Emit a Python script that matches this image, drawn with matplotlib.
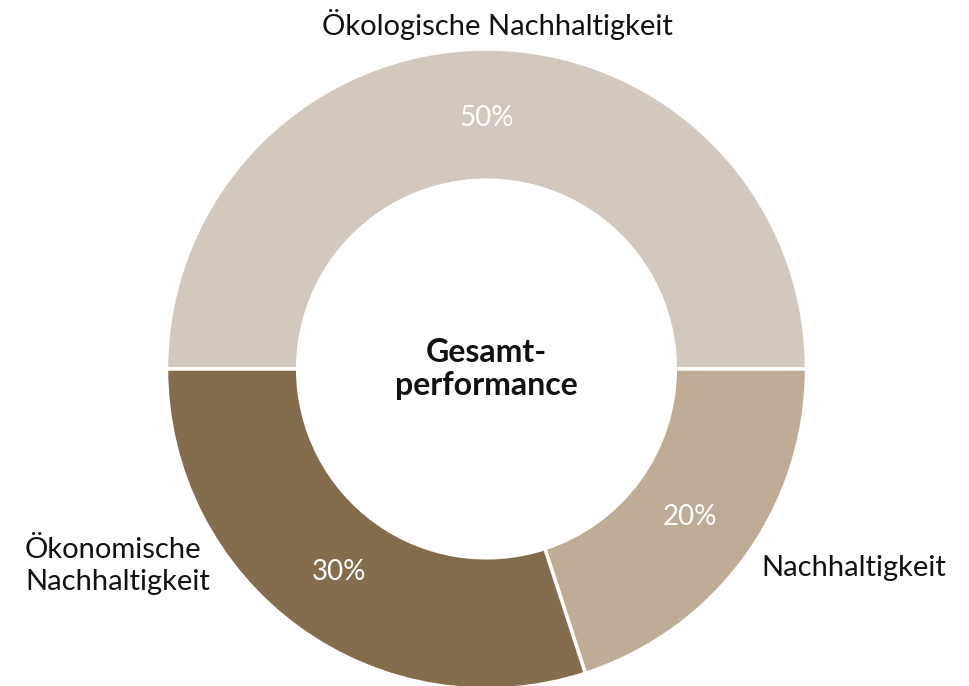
import matplotlib
matplotlib.use("Agg")
import matplotlib.pyplot as plt

categories = ["Ökologische Nachhaltigkeit", "Nachhaltigkeit", "Ökonomische\nNachhaltigkeit"]
values = [50, 20, 30]
colors = ["#D3C8BD", "#BEAC97", "#846D4C"]
center_label = "Gesamt-\nperformance"

plt.rcParams['font.family'] = ['Lato', 'DejaVu Sans']

W, H = 969, 686
fig = plt.figure(figsize=(W / 100, H / 100), dpi=100)
ax = fig.add_axes([0, 0, 1, 1])

cx, cy, R = 486.5, H - 369, 320
wedges, texts, autotexts = ax.pie(
    values, colors=colors, startangle=180, counterclock=False,
    center=(cx, cy), radius=R, autopct='%d%%', pctdistance=0.785,
    wedgeprops=dict(width=R * 0.41, edgecolor='white', linewidth=2.5),
    textprops=dict(color='white', fontsize=20), frame=True)
ax.set_xlim(0, W)
ax.set_ylim(0, H)
ax.set_aspect('equal')
ax.axis('off')

ax.text(497, H - 25, categories[0], ha='center', va='center', fontsize=21, color='#111111')
ax.text(761, H - 568, categories[1], ha='left', va='center', fontsize=21, color='#111111')
ax.text(25, H - 566, categories[2], ha='left', va='center', fontsize=21, color='#111111',
        linespacing=1.3)
ax.text(cx, cy, center_label, ha='center', va='center', fontsize=23, fontweight='bold',
        color='#111111', linespacing=1.15)

fig.savefig("out.png", dpi=100)
